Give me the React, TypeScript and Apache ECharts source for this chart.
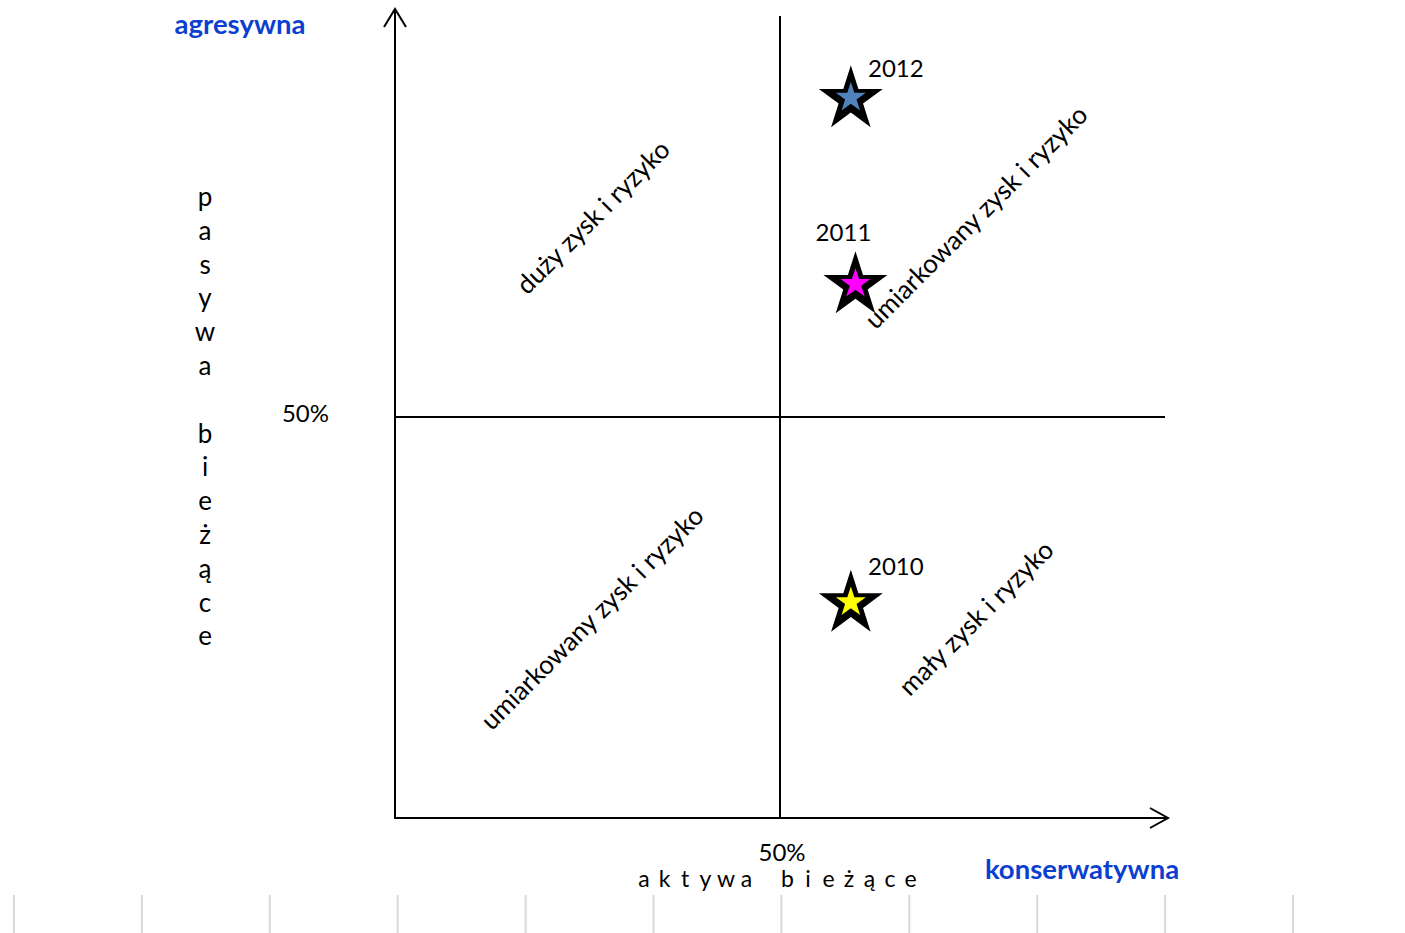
import React, { useEffect, useRef } from "react";
import * as echarts from "echarts";

// ---- data ----
const years = ["2010", "2011", "2012"];
const xValues = [59.2, 59.8, 59.2]; // aktywa bieżące (%)
const yValues = [27.1, 66.8, 90.0]; // pasywa bieżące (%)
const fillColors = ["#ffff00", "#ff00ff", "#4f81bd"];
const labelOffsets = [[45, -35], [-12, -51], [45, -29]];
const axisTickValues = [0, 50, 100];
const midLabel = "50%";
const quadrantTexts = [
  "duży zysk i ryzyko",
  "umiarkowany zysk i ryzyko",
  "umiarkowany zysk i ryzyko",
  "mały zysk i ryzyko",
];
const yTitle = "pasywa bieżące";
const xTitle = "aktywa bieżące";
const topLeftTitle = "agresywna";
const bottomRightTitle = "konserwatywna";

const STAR =
  "path://M100,0 L122.45,69.1 L195.1,69.1 L136.3,111.8 L158.8,180.9 L100,138.2 L41.2,180.9 L63.7,111.8 L4.9,69.1 L77.55,69.1 Z";

const FONT = "Lato, 'Open Sans', sans-serif";
const BLUE = "#0c3fd0";

export default function App() {
  const ref = useRef<HTMLDivElement>(null);

  useEffect(() => {
    if (!ref.current) return;
    const chart = echarts.init(ref.current, undefined, { renderer: "svg" });

    const gl = 395, gt = 16, gw = 770, gh = 802;
    const gr = gl + gw, gb = gt + gh;
    const midX = gl + gw / 2, midY = gt + gh / 2;

    const graphics: any[] = [];
    // axis arrow extensions + chevrons
    graphics.push({
      type: "polyline",
      shape: { points: [[gl, gt], [gl, 9]] },
      style: { stroke: "#000", lineWidth: 2 },
    });
    graphics.push({
      type: "polyline",
      shape: { points: [[384, 27], [gl, 9], [406, 27]] },
      style: { stroke: "#000", lineWidth: 2, fill: "none" },
    });
    graphics.push({
      type: "polyline",
      shape: { points: [[gr, gb], [1168, gb]] },
      style: { stroke: "#000", lineWidth: 2 },
    });
    graphics.push({
      type: "polyline",
      shape: { points: [[1150, 808], [1168, gb], [1150, 828]] },
      style: { stroke: "#000", lineWidth: 2, fill: "none" },
    });

    // quadrant diagonal texts
    const qCenters = [
      [(gl + midX) / 2 + 5, (gt + midY) / 2],
      [(midX + gr) / 2 + 3, (gt + midY) / 2],
      [(gl + midX) / 2 + 4, (midY + gb) / 2],
      [(midX + gr) / 2 + 3, (midY + gb) / 2],
    ];
    quadrantTexts.forEach((t, i) => {
      graphics.push({
        type: "text",
        x: qCenters[i][0],
        y: qCenters[i][1],
        rotation: Math.PI / 4,
        z: 10,
        style: {
          text: t,
          font: `26px ${FONT}`,
          fill: "#000",
          align: "center",
          verticalAlign: "middle",
        },
      });
    });

    // vertical y title, one letter per line
    const yLetters = yTitle.split("");
    yLetters.forEach((ch, i) => {
      if (ch === " ") return;
      graphics.push({
        type: "text",
        x: 205,
        y: 196 + i * 33.8,
        style: {
          text: ch,
          font: `26px ${FONT}`,
          fill: "#000",
          align: "center",
          verticalAlign: "middle",
        },
      });
    });

    // spaced x title
    const xLetters = xTitle.split("");
    xLetters.forEach((ch, i) => {
      if (ch === " ") return;
      graphics.push({
        type: "text",
        x: 644 + i * 20.5,
        y: 878,
        style: {
          text: ch,
          font: `23px ${FONT}`,
          fill: "#000",
          align: "center",
          verticalAlign: "middle",
        },
      });
    });

    graphics.push({
      type: "text",
      x: 240,
      y: 23,
      style: {
        text: topLeftTitle,
        font: `bold 27.5px ${FONT}`,
        fill: BLUE,
        align: "center",
        verticalAlign: "middle",
      },
    });
    graphics.push({
      type: "text",
      x: 1082,
      y: 868,
      style: {
        text: bottomRightTitle,
        font: `bold 27.5px ${FONT}`,
        fill: BLUE,
        align: "center",
        verticalAlign: "middle",
      },
    });

    // light grey marks along the bottom
    for (let i = 0; i < 11; i++) {
      const x = 14 + i * 127.9;
      graphics.push({
        type: "line",
        shape: { x1: x, y1: 895, x2: x, y2: 933 },
        style: { stroke: "#d9d9d9", lineWidth: 2 },
      });
    }

    const starData = years.map((y, i) => ({
      name: y,
      value: [xValues[i], yValues[i]],
    }));

    chart.setOption({
      animation: false,
      backgroundColor: "#ffffff",
      grid: { left: gl, top: gt, width: gw, height: gh, containLabel: false },
      xAxis: {
        type: "value",
        min: 0,
        max: 100,
        interval: 50,
        axisLine: { show: true, lineStyle: { color: "#000", width: 2 } },
        axisTick: { show: false },
        splitLine: { show: false },
        axisLabel: {
          margin: 21,
          fontSize: 24,
          fontFamily: FONT,
          color: "#000",
          padding: [0, 0, 0, 4],
          formatter: (v: number) =>
            v === axisTickValues[1] ? midLabel : "",
        },
      },
      yAxis: {
        type: "value",
        min: 0,
        max: 100,
        interval: 50,
        axisLine: { show: true, lineStyle: { color: "#000", width: 2 } },
        axisTick: { show: false },
        splitLine: { show: false },
        axisLabel: {
          margin: 66,
          fontSize: 24,
          fontFamily: FONT,
          color: "#000",
          verticalAlign: "bottom",
          lineHeight: 10,
          formatter: (v: number) =>
            v === axisTickValues[1] ? midLabel : "",
        },
      },
      series: [
        {
          type: "scatter",
          name: "outer",
          symbol: STAR,
          symbolSize: [64, 62],
          z: 3,
          itemStyle: { color: "#000", opacity: 1 },
          data: starData,
          markLine: {
            silent: true,
            symbol: ["none", "none"],
            label: { show: false },
            lineStyle: { color: "#000", width: 2, type: "solid" },
            data: [{ xAxis: axisTickValues[1] }, { yAxis: axisTickValues[1] }],
          },
        },
        {
          type: "scatter",
          name: "inner",
          symbol: STAR,
          symbolSize: [30, 28.5],
          z: 4,
          data: starData.map((d, i) => ({
            ...d,
            itemStyle: { color: fillColors[i], opacity: 1 },
            label: {
              show: true,
              position: "inside",
              offset: labelOffsets[i],
              formatter: "{b}",
              fontSize: 24,
              fontFamily: FONT,
              color: "#000",
            },
          })),
        },
      ],
      graphic: graphics,
    });

    return () => chart.dispose();
  }, []);

  return (
    <div
      ref={ref}
      style={{ position: "fixed", left: 0, top: 0, width: 1405, height: 933 }}
    />
  );
}
